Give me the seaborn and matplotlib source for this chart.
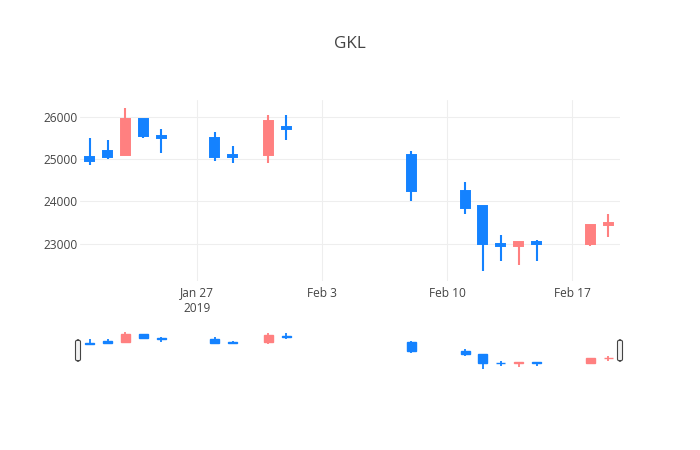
import matplotlib
matplotlib.use("Agg")
import matplotlib.pyplot as plt
import matplotlib.dates as mdates
from matplotlib.patches import FancyBboxPatch
import seaborn as sns
import pandas as pd
import numpy as np

# ---- data ----
dates = ["2019-01-21", "2019-01-22", "2019-01-23", "2019-01-24", "2019-01-25",
         "2019-01-28", "2019-01-29", "2019-01-31", "2019-02-01",
         "2019-02-08", "2019-02-11", "2019-02-12", "2019-02-13", "2019-02-14",
         "2019-02-15", "2019-02-18", "2019-02-19"]
open_ = [25050, 25200, 25100, 25950, 25550, 25500, 25100, 25100, 25750,
         25100, 24250, 23900, 23000, 22950, 23050, 23000, 23450]
high = [25500, 25450, 26200, 25950, 25700, 25650, 25300, 26050, 26050,
        25200, 24450, 23900, 23200, 23050, 23100, 23450, 23700]
low = [24850, 25000, 25100, 25500, 25150, 24950, 24900, 24900, 25450,
       24000, 23700, 22350, 22600, 22500, 22600, 22950, 23150]
close = [24950, 25050, 25950, 25550, 25500, 25050, 25050, 25900, 25700,
         24250, 23850, 23000, 22950, 23050, 23000, 23450, 23500]
tick_dates = ["2019-01-27", "2019-02-03", "2019-02-10", "2019-02-17"]
tick_labels = ["Jan 27\n2019", "Feb 3", "Feb 10", "Feb 17"]
y_ticks = [23000, 24000, 25000, 26000]
title = "GKL"

df = pd.DataFrame({"date": pd.to_datetime(dates), "open": open_, "high": high,
                   "low": low, "close": close})
df["x"] = mdates.date2num(df["date"])
df["dir"] = np.where(df["close"] > df["open"], "up", "down")

UP = "#FF8080"
DOWN = "#1482FF"
palette = {"up": UP, "down": DOWN}

sns.set_theme(style="white")
plt.rcParams["font.family"] = ["Open Sans", "DejaVu Sans"]

fig = plt.figure(figsize=(7, 4.5), dpi=100)
W, H = 700, 450
def axrect(l, t, r, b):
    return [l / W, 1 - b / H, (r - l) / W, (b - t) / H]

ax = fig.add_axes(axrect(80, 100, 620, 281))
axs = fig.add_axes(axrect(80, 330, 620, 371))

xmin = mdates.date2num(pd.Timestamp("2019-01-20 11:00"))
xmax = mdates.date2num(pd.Timestamp("2019-02-19 16:00"))
ylim = (22120, 26395)

def draw(a, lw_wick, lw_edge, width):
    for _, r in df.iterrows():
        c = palette[r["dir"]]
        a.vlines(r["x"], r["low"], r["high"], color=c, lw=lw_wick, zorder=2)
        lo = min(r["open"], r["close"])
        hi = max(r["open"], r["close"])
        a.bar(r["x"], hi - lo, bottom=lo, width=width, color=c, edgecolor=c,
              lw=lw_edge, zorder=3)
    a.set_xlim(xmin, xmax)
    a.set_ylim(*ylim)

draw(ax, 1.5, 1.4, 0.5)
draw(axs, 1.3, 1.0, 0.5)

ax.set_xticks(mdates.date2num(pd.to_datetime(tick_dates)))
ax.set_xticklabels(tick_labels)
ax.set_yticks(y_ticks)
ax.set_yticklabels([str(v) for v in y_ticks])
ax.grid(True, color="#eeeeee", lw=0.75)
ax.set_axisbelow(True)
ax.tick_params(axis="both", length=0, labelsize=8.6, colors="#444444")
ax.tick_params(axis="x", pad=4)
ax.tick_params(axis="y", pad=2)
for s in ax.spines.values():
    s.set_visible(False)

axs.set_xticks([])
axs.set_yticks([])
for s in axs.spines.values():
    s.set_visible(False)

# range slider handles
for xp in (78, 620):
    p = FancyBboxPatch(((xp - 2.5) / W, 1 - 361 / H), 5 / W, 21 / H,
                       boxstyle="round,pad=0,rounding_size=0.004",
                       transform=fig.transFigure, facecolor="#f2f2f2",
                       edgecolor="#444444", lw=0.8)
    fig.patches.append(p)

fig.text(0.5, 1 - 44 / H, title, ha="center", va="center", fontsize=12.3,
         color="#444444")

fig.savefig("out.png", dpi=100, facecolor="white")
